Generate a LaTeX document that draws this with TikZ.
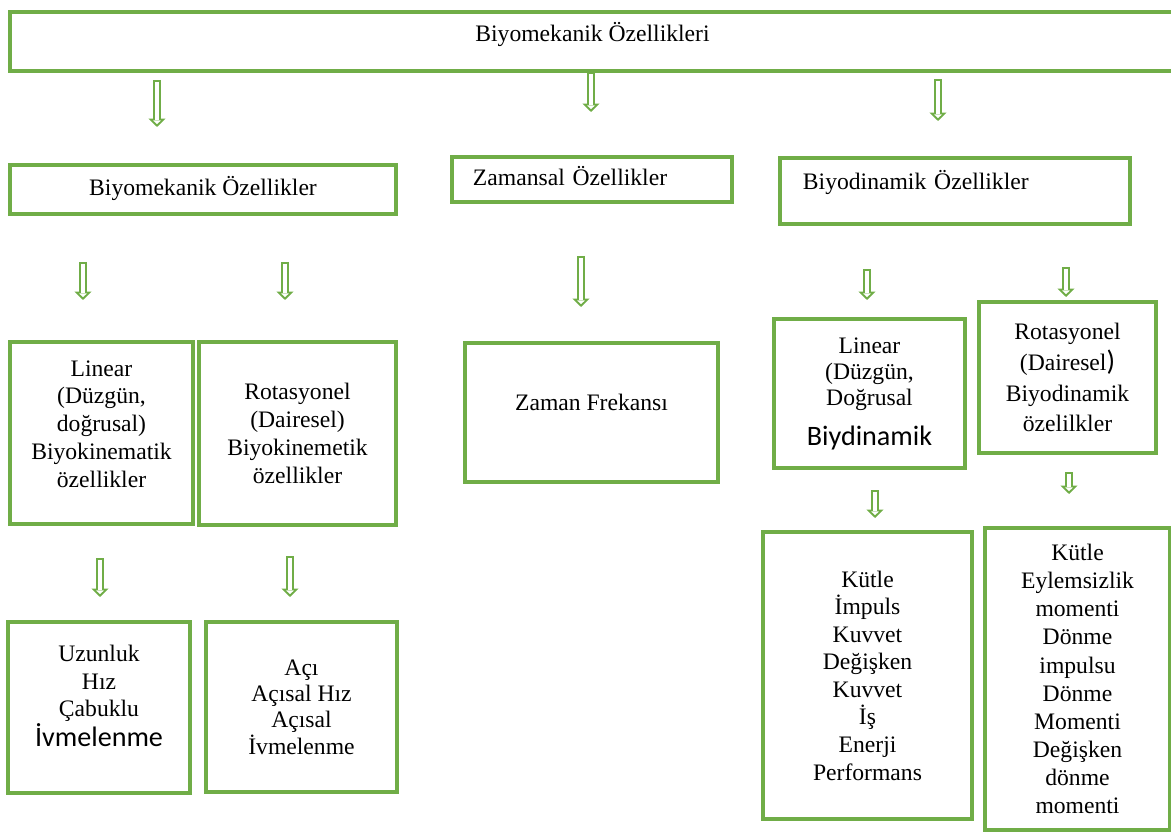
\documentclass[tikz,border=0pt]{standalone}
\usepackage{fontspec}
\setmainfont{Liberation Serif}
\newfontfamily\calibri{Carlito}
\usetikzlibrary{arrows.meta}
\definecolor{bmGreen}{RGB}{112,173,71}
\newcommand{\bigsans}[1]{{\calibri\fontsize{20}{24}\selectfont #1}}
\tikzset{
    wh/.style 2 args={minimum width=#1*0.025cm, minimum height=#2*0.025cm},
    box/.style={rectangle, draw=bmGreen, line width=2.2pt, fill=white, align=center,
                inner sep=0pt, font=\fontsize{16.8}{19.8}\selectfont},
    oneline/.style={text height=12pt, text depth=#1},
    flow/.style={draw=bmGreen, line width=5pt,
                 -{Triangle[length=6pt, width=12pt, fill=white, line width=1.3pt]},
                 postaction={draw=white, line width=2.2pt, -, shorten <=1.3pt, shorten >=5pt}}
}

\begin{document}
\begin{tikzpicture}[x=0.025cm, y=-0.025cm]
  \useasboundingbox (0,0) rectangle (1171,833);

  % Top box
  \node[box, wh={1165}{59}, oneline=12pt] (top) at (592.5,41.5) {Biyomekanik Özellikleri};

  % Second row
  \node[box, wh={386}{49}, oneline=4pt] (bmk) at (203,189.5) {Biyomekanik Özellikler};
  \node[box, wh={280}{45}, oneline=4pt, text width=5.95cm, align=left] (zam) at (592,179.5)
    {Zamansal Özellikler};
  \node[box, wh={350}{66}, oneline=14pt, text width=7.6cm, align=left] (bdy) at (955,191)
    {Biyodinamik Özellikler};

  % Third row
  \node[box, wh={183}{182}] (linkin) at (101.5,433)
    {Linear\\(Düzgün,\\doğrusal)\\Biyokinematik\\özellikler\\[-7pt]\mbox{}};
  \node[box, wh={197}{183}] (rotkin) at (297.5,433.5)
    {Rotasyonel\\(Dairesel)\\Biyokinemetik\\özellikler};
  \node[box, wh={253}{139}, oneline=15pt] (frek) at (591.5,412.5) {Zaman Frekansı};
  \node[box, wh={191}{149}, font=\fontsize{16.8}{18.5}\selectfont] (lindyn) at (869.5,393.5)
    {Linear\\(Düzgün,\\Doğrusal\\[10pt]\bigsans{Biydinamik}};
  \node[box, wh={177}{151}, font=\fontsize{16.8}{22}\selectfont] (rotdyn) at (1067.5,377.5)
    {Rotasyonel\\(Dairesel\bigsans{)}\\Biyodinamik\\özelilkler};

  % Bottom row
  \node[box, wh={182}{171}] (linlist) at (99,707.5)
    {Uzunluk\\Hız\\Çabuklu\\\bigsans{İvmelenme}\\[-2.8pt]\mbox{}};
  \node[box, wh={191}{170}, font=\fontsize{16.8}{18.7}\selectfont] (rotlist) at (301.5,707)
    {Açı\\Açısal Hız\\Açısal\\İvmelenme};
  \node[box, wh={209}{287}, font=\fontsize{16.8}{19.6}\selectfont] (dynlist) at (867.5,675.5)
    {Kütle\\İmpuls\\Kuvvet\\Değişken\\Kuvvet\\İş\\Enerji\\Performans};
  \node[box, wh={185}{302}, font=\fontsize{16.8}{20}\selectfont] (momlist) at (1077.5,679)
    {Kütle\\Eylemsizlik\\momenti\\Dönme\\impulsu\\Dönme\\Momenti\\Değişken\\dönme\\momenti};

  % Arrow ends
  \coordinate (t1a) at (157,80);  \coordinate (t1b) at (157,127);
  \coordinate (t2a) at (591,72);  \coordinate (t2b) at (591,112);
  \coordinate (t3a) at (938,79);  \coordinate (t3b) at (938,121);
  \coordinate (m1a) at (83,262);  \coordinate (m1b) at (83,300);
  \coordinate (m2a) at (285,262); \coordinate (m2b) at (285,300);
  \coordinate (m3a) at (581,256); \coordinate (m3b) at (581,307);
  \coordinate (m4a) at (867,269); \coordinate (m4b) at (867,300);
  \coordinate (m5a) at (1066,267); \coordinate (m5b) at (1066,297);
  \coordinate (b1a) at (100,558); \coordinate (b1b) at (100,597);
  \coordinate (b2a) at (290,556); \coordinate (b2b) at (290,597);
  \coordinate (b3a) at (875,490); \coordinate (b3b) at (875,518);
  \coordinate (b4a) at (1069,472); \coordinate (b4b) at (1069,494);

  % Arrows
  \draw[flow] (t1a) -- (t1b);
  \draw[flow] (t2a) -- (t2b);
  \draw[flow] (t3a) -- (t3b);
  \draw[flow] (m1a) -- (m1b);
  \draw[flow] (m2a) -- (m2b);
  \draw[flow] (m3a) -- (m3b);
  \draw[flow] (m4a) -- (m4b);
  \draw[flow] (m5a) -- (m5b);
  \draw[flow] (b1a) -- (b1b);
  \draw[flow] (b2a) -- (b2b);
  \draw[flow] (b3a) -- (b3b);
  \draw[flow] (b4a) -- (b4b);
\end{tikzpicture}
\end{document}
